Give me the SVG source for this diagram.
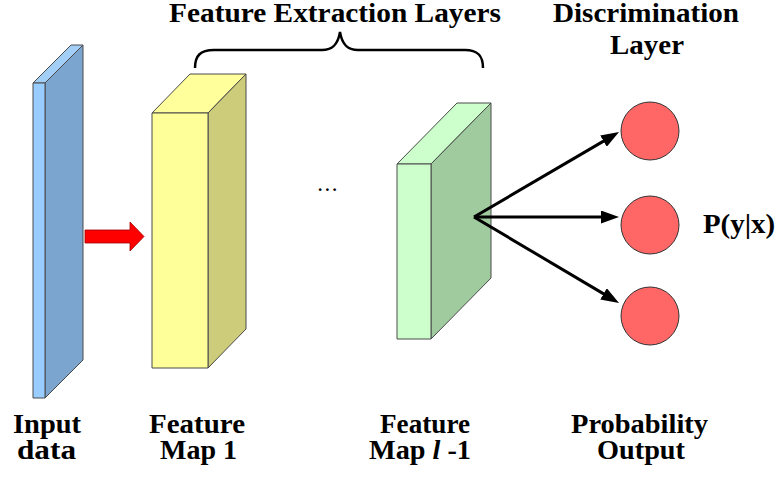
<svg xmlns="http://www.w3.org/2000/svg" width="780" height="478" viewBox="0 0 780 478">
<style>
.lbl{font-family:"Liberation Serif","Times New Roman",serif;font-weight:bold;font-size:27px;fill:#000}
.face{stroke:#4a4a4a;stroke-width:1;stroke-linejoin:round}
.conn{stroke:#000;stroke-width:3;fill:none}
.node{fill:#ff6666;stroke:#333;stroke-width:1}
</style>
<defs>
<marker id="ah" markerUnits="userSpaceOnUse" markerWidth="18" markerHeight="13" refX="8" refY="6.5" orient="auto">
<path d="M0,0 L18,6.5 L0,13 z" fill="#000"/>
</marker>
</defs>
<rect width="780" height="478" fill="#fff"/>

<g id="title">
<text class="lbl" x="169" y="22" textLength="332" lengthAdjust="spacingAndGlyphs">Feature Extraction Layers</text>
<path d="M195,68 C195,56 200,50 214,50 L322,50 C333,50 338,44 340,32 C342,44 347,50 358,50 L465,50 C478,50 483,56 483,68" fill="none" stroke="#000" stroke-width="2.5"/>
</g>
<g id="disc-title">
<text class="lbl" x="553" y="22" textLength="186" lengthAdjust="spacingAndGlyphs">Discrimination</text>
<text class="lbl" x="610" y="54" textLength="74" lengthAdjust="spacingAndGlyphs">Layer</text>
</g>

<g id="input">
<polygon class="face" points="33,83 45,83 83,45 71,45" fill="#a3cff7"/>
<polygon class="face" points="45,83 83,45 83,360 45,398" fill="#7ba5cf"/>
<rect class="face" x="33" y="83" width="12" height="315" fill="#99ccff"/>
<text class="lbl" x="13" y="433" textLength="68" lengthAdjust="spacingAndGlyphs">Input</text>
<text class="lbl" x="17" y="459" textLength="59" lengthAdjust="spacingAndGlyphs">data</text>
</g>

<g id="arrow-red">
<polygon points="85,230 130,230 130,222 144,236.5 130,251 130,243 85,243" fill="#ff0000" stroke="#a00000" stroke-width="0.8"/>
</g>

<g id="map1">
<polygon class="face" points="152,113 208,113 246,74 190,74" fill="#ffff9c"/>
<polygon class="face" points="208,113 246,74 246,329 208,368" fill="#cccc7a"/>
<rect class="face" x="152" y="113" width="56" height="255" fill="#ffff99"/>
<text class="lbl" x="149" y="433" textLength="96" lengthAdjust="spacingAndGlyphs">Feature</text>
<text class="lbl" x="160" y="459" textLength="77" lengthAdjust="spacingAndGlyphs">Map 1</text>
</g>

<g id="dots">
<text x="318" y="191" font-family="Liberation Serif, serif" font-weight="bold" font-size="17" letter-spacing="3">...</text>
</g>

<g id="mapl">
<polygon class="face" points="397,164 431,164 491,103 457,103" fill="#ccffcc"/>
<polygon class="face" points="431,164 491,103 491,278 431,339" fill="#9fcb9f"/>
<rect class="face" x="397" y="164" width="34" height="175" fill="#ccffcc"/>
<text class="lbl" x="380" y="433" textLength="90" lengthAdjust="spacingAndGlyphs">Feature</text>
<text class="lbl" x="369" y="459" textLength="102" lengthAdjust="spacingAndGlyphs">Map <tspan font-style="italic">l</tspan> -1</text>
</g>

<g id="connectors">
<line class="conn" x1="474" y1="217" x2="610.4" y2="137.1" marker-end="url(#ah)"/>
<line class="conn" x1="474" y1="217" x2="609" y2="217" marker-end="url(#ah)"/>
<line class="conn" x1="474" y1="217" x2="610.4" y2="297.9" marker-end="url(#ah)"/>
</g>

<g id="out1"><circle class="node" cx="650" cy="131" r="29"/></g>
<g id="out2"><circle class="node" cx="650" cy="225" r="29"/></g>
<g id="out3"><circle class="node" cx="650" cy="316" r="29"/></g>

<g id="output-labels">
<text class="lbl" x="703" y="233" textLength="72" lengthAdjust="spacingAndGlyphs">P(y|x)</text>
<text class="lbl" x="571" y="433" textLength="137" lengthAdjust="spacingAndGlyphs">Probability</text>
<text class="lbl" x="597" y="459" textLength="88" lengthAdjust="spacingAndGlyphs">Output</text>
</g>
</svg>
